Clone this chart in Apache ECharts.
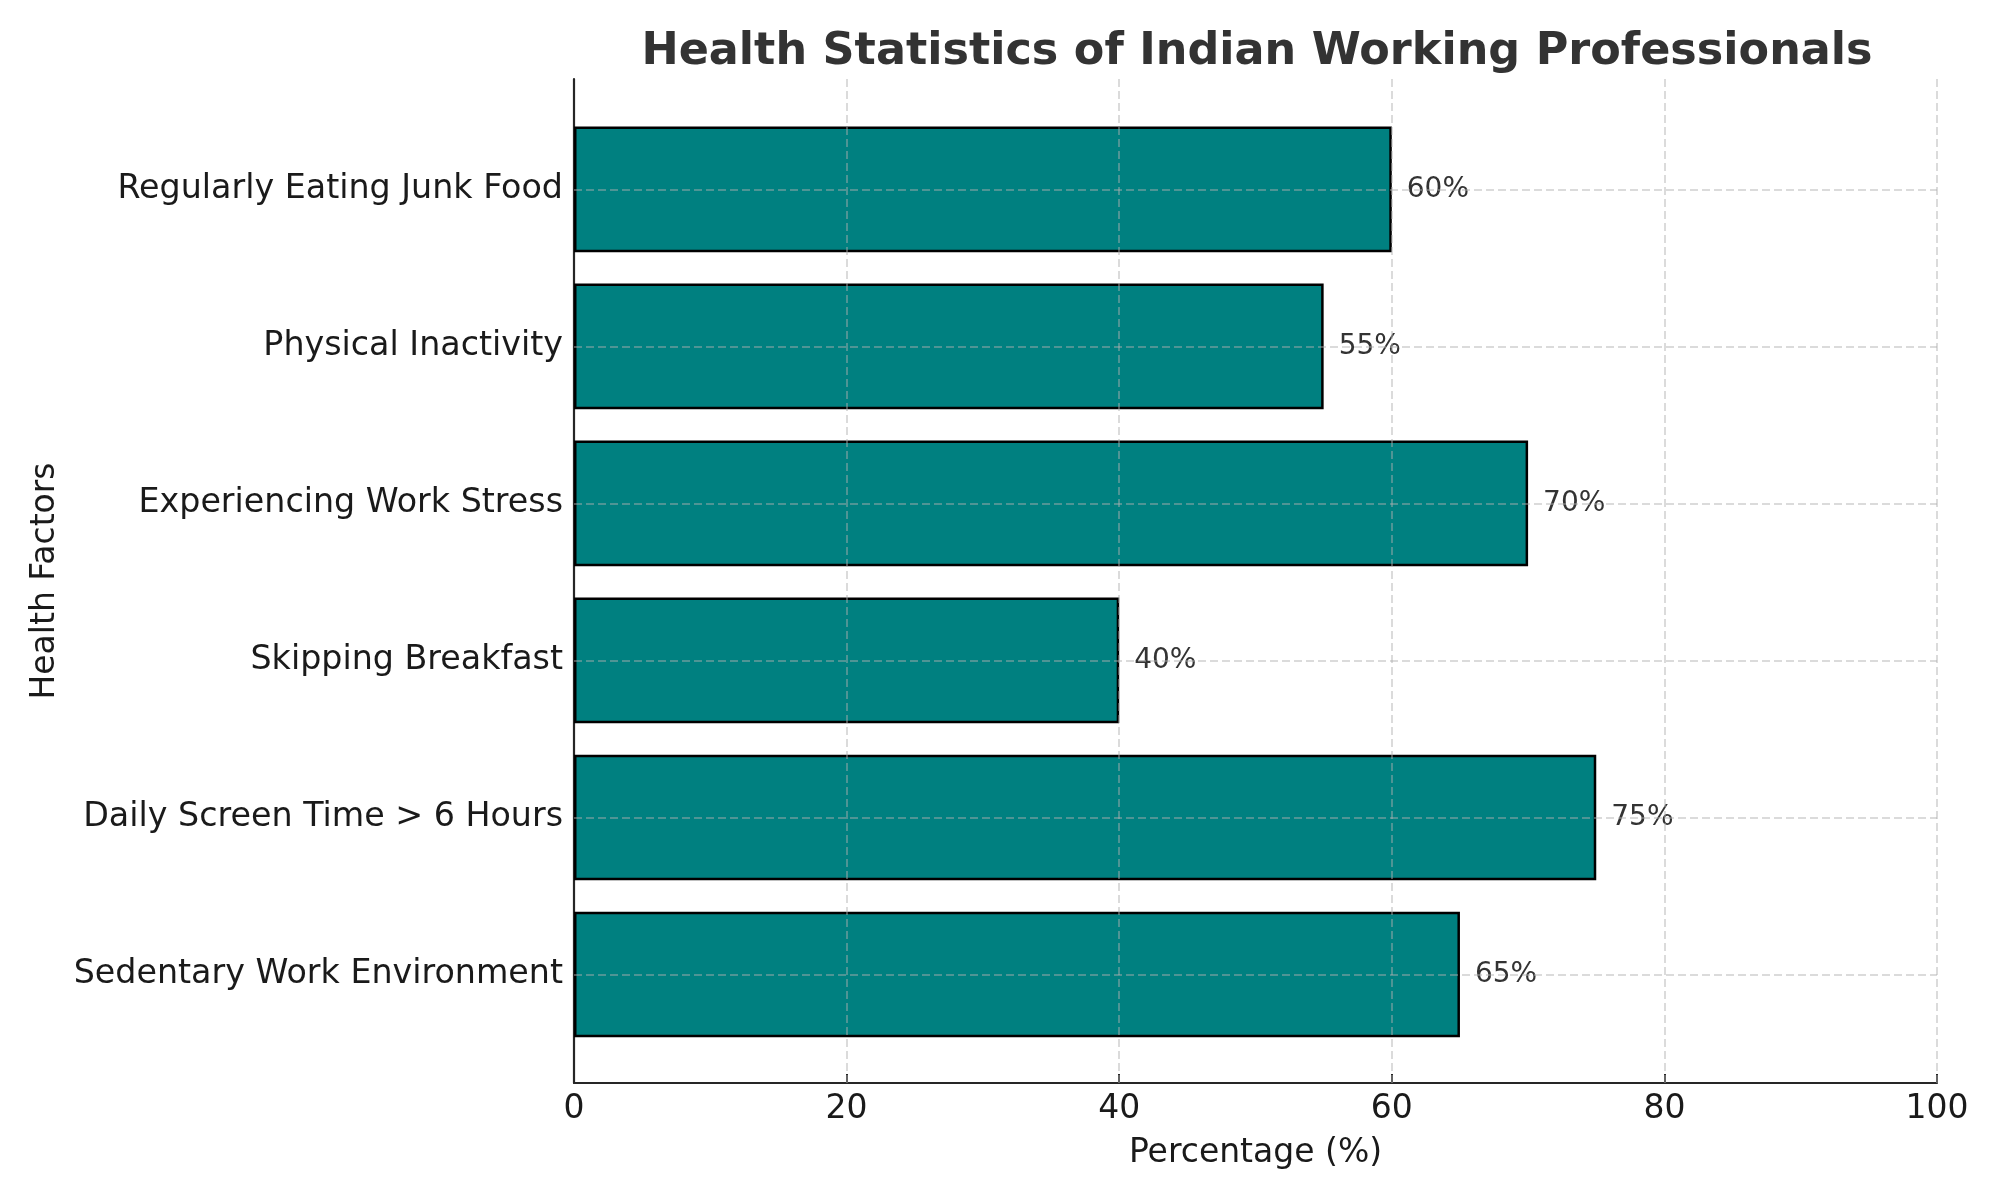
<!DOCTYPE html>
<html>
<head>
<meta charset="utf-8">
<script src="https://cdn.jsdelivr.net/npm/echarts@6/dist/echarts.min.js"></script>
<style>html,body{margin:0;padding:0;background:#fff}#chart{width:2000px;height:1200px}</style>
</head>
<body>
<div id="chart"></div>
<script>
const categories = ['Sedentary Work Environment', 'Daily Screen Time > 6 Hours', 'Skipping Breakfast', 'Experiencing Work Stress', 'Physical Inactivity', 'Regularly Eating Junk Food'];
const values = [65, 75, 40, 70, 55, 60];
const xTicks = [0, 20, 40, 60, 80, 100];
const titleText = 'Health Statistics of Indian Working Professionals';
const xName = 'Percentage (%)';
const yName = 'Health Factors';

const FONT = 'DejaVu Sans';
const gridLine = { color: 'rgba(176,176,176,0.6)', type: [8, 4], width: 1.5 };

const chart = echarts.init(document.getElementById('chart'), null, { renderer: 'canvas' });
chart.setOption({
  backgroundColor: '#ffffff',
  animation: false,
  title: {
    text: titleText,
    left: 1257, top: 30, padding: 0, textAlign: 'center',
    textStyle: { fontFamily: FONT, fontWeight: 'bold', fontSize: 44.5, color: '#333333' }
  },
  grid: [
    { left: 574, right: 63, top: 79, bottom: 117 },
    { left: 574, right: 63, top: 110.8, bottom: 147 }
  ],
  xAxis: [
    {
      gridIndex: 0, type: 'value', min: xTicks[0], max: xTicks[xTicks.length - 1], interval: 20,
      axisLine: { show: true, lineStyle: { color: '#262626', width: 2.2 } },
      axisTick: { show: true, inside: true, length: 9, lineStyle: { color: '#262626', width: 2 } },
      axisLabel: { fontFamily: FONT, fontSize: 33, color: '#1a1a1a', margin: 10 },
      splitLine: { show: false },
      name: xName, nameLocation: 'middle', nameGap: 54,
      nameTextStyle: { fontFamily: FONT, fontSize: 33, color: '#1a1a1a' }
    },
    { gridIndex: 1, type: 'value', min: 0, max: 100, show: false }
  ],
  yAxis: [
    {
      gridIndex: 0, type: 'value', min: 0, max: 1,
      axisLine: { show: true, lineStyle: { color: '#262626', width: 2.2 } },
      axisTick: { show: false }, axisLabel: { show: false }, splitLine: { show: false },
      name: yName, nameLocation: 'middle', nameGap: 512, nameRotate: 90,
      nameTextStyle: { fontFamily: FONT, fontSize: 33, color: '#1a1a1a' }
    },
    {
      gridIndex: 1, type: 'category', data: categories,
      axisLine: { show: false },
      axisTick: { show: true, inside: true, alignWithLabel: true, length: 9, lineStyle: { color: '#262626', width: 2 } },
      axisLabel: { fontFamily: FONT, fontSize: 33.3, color: '#1a1a1a', margin: 11, padding: [10, 0, 0, 0] },
      splitLine: { show: false }
    }
  ],
  series: [
    {
      type: 'bar', xAxisIndex: 1, yAxisIndex: 1,
      data: values, barWidth: '80%',
      itemStyle: { color: '#008080', borderColor: '#000000', borderWidth: 2.5 },
      label: { show: true, position: 'right', distance: 15, formatter: '{c}%',
               fontFamily: FONT, fontSize: 28, color: '#333333' },
      markLine: {
        silent: true, symbol: ['none', 'none'], label: { show: false },
        lineStyle: gridLine,
        data: categories.map(c => ({ yAxis: c }))
      }
    },
    {
      type: 'line', xAxisIndex: 0, yAxisIndex: 0, data: [], z: 10,
      markLine: {
        silent: true, symbol: ['none', 'none'], label: { show: false },
        lineStyle: gridLine,
        data: xTicks.slice(1).map(v => ({ xAxis: v }))
      }
    }
  ]
});
</script>
</body>
</html>
